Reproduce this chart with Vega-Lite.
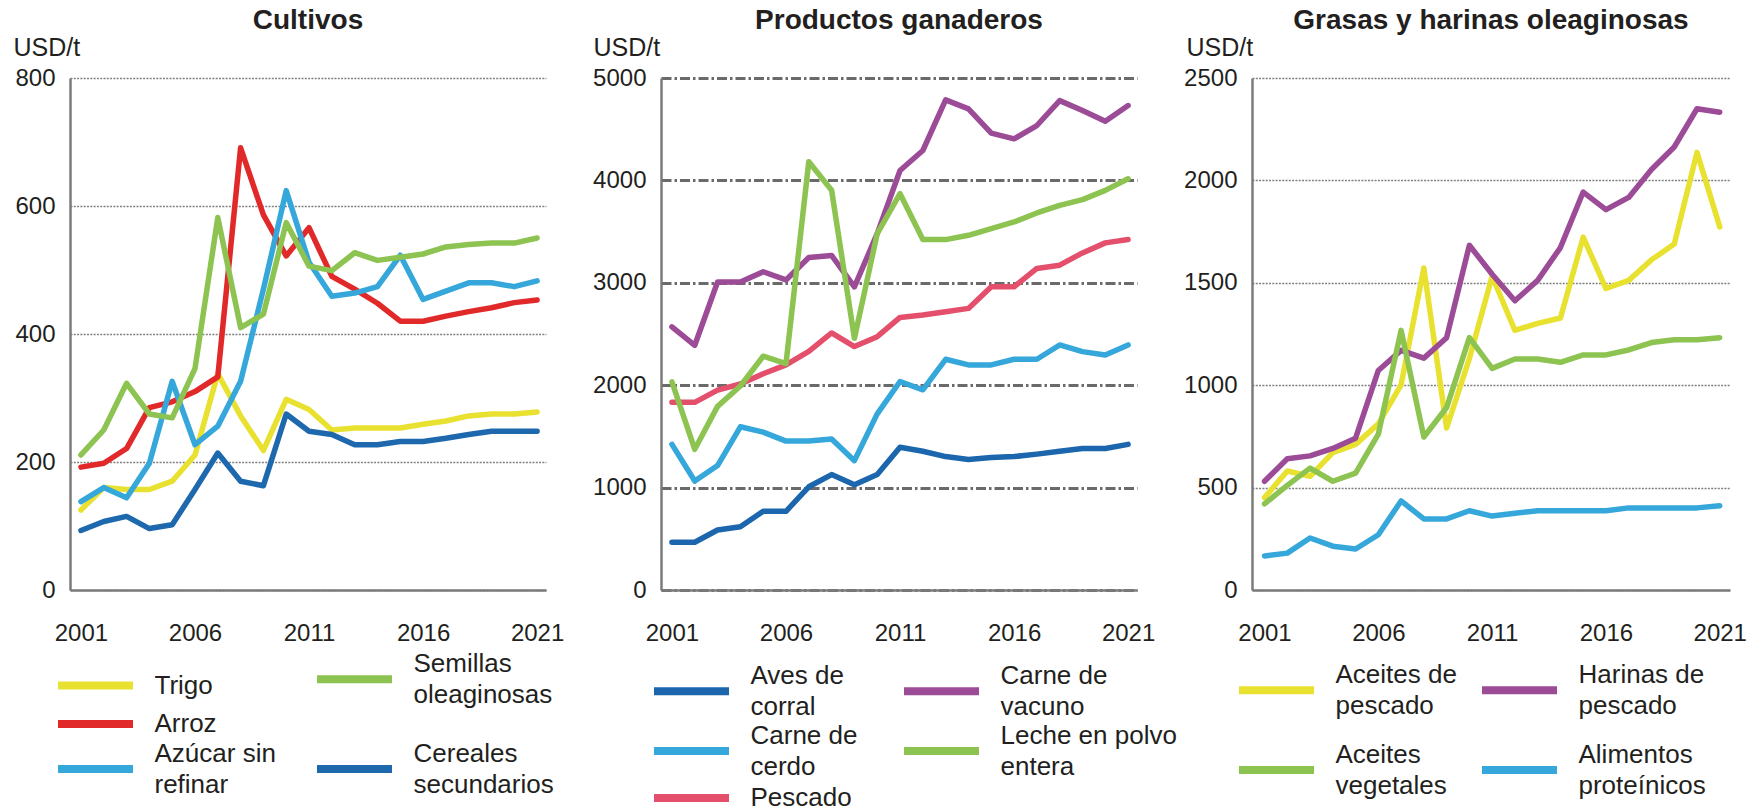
{
  "$schema": "https://vega.github.io/schema/vega-lite/v6.json",
  "background": "white",
  "padding": {"left": 13, "top": 7, "right": 10, "bottom": 0},
  "spacing": 115,
  "bounds": "flush",
  "config": {
    "view": {"stroke": null},
    "font": "Liberation Sans",
    "axis": {"labelFont": "Liberation Sans", "titleFont": "Liberation Sans"},
    "legend": {"labelFont": "Liberation Sans"},
    "title": {"font": "Liberation Sans"}
  },
  "resolve": {"scale": {"color": "independent", "x": "independent", "y": "independent"}},
  "datasets": {
    "cultivos": [
      {"serie": "Trigo", "anio": 2001, "valor": 125}, {"serie": "Trigo", "anio": 2002, "valor": 160}, {"serie": "Trigo", "anio": 2003, "valor": 157}, {"serie": "Trigo", "anio": 2004, "valor": 157}, {"serie": "Trigo", "anio": 2005, "valor": 170}, {"serie": "Trigo", "anio": 2006, "valor": 211}, {"serie": "Trigo", "anio": 2007, "valor": 338}, {"serie": "Trigo", "anio": 2008, "valor": 272}, {"serie": "Trigo", "anio": 2009, "valor": 218}, {"serie": "Trigo", "anio": 2010, "valor": 298}, {"serie": "Trigo", "anio": 2011, "valor": 282}, {"serie": "Trigo", "anio": 2012, "valor": 250}, {"serie": "Trigo", "anio": 2013, "valor": 253}, {"serie": "Trigo", "anio": 2014, "valor": 253}, {"serie": "Trigo", "anio": 2015, "valor": 253}, {"serie": "Trigo", "anio": 2016, "valor": 259}, {"serie": "Trigo", "anio": 2017, "valor": 264}, {"serie": "Trigo", "anio": 2018, "valor": 272}, {"serie": "Trigo", "anio": 2019, "valor": 275}, {"serie": "Trigo", "anio": 2020, "valor": 275}, {"serie": "Trigo", "anio": 2021, "valor": 278},
      {"serie": "Arroz", "anio": 2001, "valor": 192}, {"serie": "Arroz", "anio": 2002, "valor": 198}, {"serie": "Arroz", "anio": 2003, "valor": 221}, {"serie": "Arroz", "anio": 2004, "valor": 285}, {"serie": "Arroz", "anio": 2005, "valor": 294}, {"serie": "Arroz", "anio": 2006, "valor": 310}, {"serie": "Arroz", "anio": 2007, "valor": 333}, {"serie": "Arroz", "anio": 2008, "valor": 691}, {"serie": "Arroz", "anio": 2009, "valor": 586}, {"serie": "Arroz", "anio": 2010, "valor": 522}, {"serie": "Arroz", "anio": 2011, "valor": 566}, {"serie": "Arroz", "anio": 2012, "valor": 490}, {"serie": "Arroz", "anio": 2013, "valor": 470}, {"serie": "Arroz", "anio": 2014, "valor": 448}, {"serie": "Arroz", "anio": 2015, "valor": 420}, {"serie": "Arroz", "anio": 2016, "valor": 420}, {"serie": "Arroz", "anio": 2017, "valor": 428}, {"serie": "Arroz", "anio": 2018, "valor": 435}, {"serie": "Arroz", "anio": 2019, "valor": 441}, {"serie": "Arroz", "anio": 2020, "valor": 449}, {"serie": "Arroz", "anio": 2021, "valor": 453},
      {"serie": "Azúcar sin refinar", "anio": 2001, "valor": 138}, {"serie": "Azúcar sin refinar", "anio": 2002, "valor": 160}, {"serie": "Azúcar sin refinar", "anio": 2003, "valor": 144}, {"serie": "Azúcar sin refinar", "anio": 2004, "valor": 198}, {"serie": "Azúcar sin refinar", "anio": 2005, "valor": 326}, {"serie": "Azúcar sin refinar", "anio": 2006, "valor": 227}, {"serie": "Azúcar sin refinar", "anio": 2007, "valor": 256}, {"serie": "Azúcar sin refinar", "anio": 2008, "valor": 326}, {"serie": "Azúcar sin refinar", "anio": 2009, "valor": 470}, {"serie": "Azúcar sin refinar", "anio": 2010, "valor": 624}, {"serie": "Azúcar sin refinar", "anio": 2011, "valor": 512}, {"serie": "Azúcar sin refinar", "anio": 2012, "valor": 459}, {"serie": "Azúcar sin refinar", "anio": 2013, "valor": 464}, {"serie": "Azúcar sin refinar", "anio": 2014, "valor": 474}, {"serie": "Azúcar sin refinar", "anio": 2015, "valor": 523}, {"serie": "Azúcar sin refinar", "anio": 2016, "valor": 454}, {"serie": "Azúcar sin refinar", "anio": 2017, "valor": 467}, {"serie": "Azúcar sin refinar", "anio": 2018, "valor": 480}, {"serie": "Azúcar sin refinar", "anio": 2019, "valor": 480}, {"serie": "Azúcar sin refinar", "anio": 2020, "valor": 474}, {"serie": "Azúcar sin refinar", "anio": 2021, "valor": 483},
      {"serie": "Semillas oleaginosas", "anio": 2001, "valor": 211}, {"serie": "Semillas oleaginosas", "anio": 2002, "valor": 250}, {"serie": "Semillas oleaginosas", "anio": 2003, "valor": 323}, {"serie": "Semillas oleaginosas", "anio": 2004, "valor": 275}, {"serie": "Semillas oleaginosas", "anio": 2005, "valor": 269}, {"serie": "Semillas oleaginosas", "anio": 2006, "valor": 346}, {"serie": "Semillas oleaginosas", "anio": 2007, "valor": 582}, {"serie": "Semillas oleaginosas", "anio": 2008, "valor": 410}, {"serie": "Semillas oleaginosas", "anio": 2009, "valor": 431}, {"serie": "Semillas oleaginosas", "anio": 2010, "valor": 574}, {"serie": "Semillas oleaginosas", "anio": 2011, "valor": 506}, {"serie": "Semillas oleaginosas", "anio": 2012, "valor": 499}, {"serie": "Semillas oleaginosas", "anio": 2013, "valor": 527}, {"serie": "Semillas oleaginosas", "anio": 2014, "valor": 515}, {"serie": "Semillas oleaginosas", "anio": 2015, "valor": 520}, {"serie": "Semillas oleaginosas", "anio": 2016, "valor": 525}, {"serie": "Semillas oleaginosas", "anio": 2017, "valor": 536}, {"serie": "Semillas oleaginosas", "anio": 2018, "valor": 540}, {"serie": "Semillas oleaginosas", "anio": 2019, "valor": 542}, {"serie": "Semillas oleaginosas", "anio": 2020, "valor": 542}, {"serie": "Semillas oleaginosas", "anio": 2021, "valor": 550},
      {"serie": "Cereales secundarios", "anio": 2001, "valor": 93}, {"serie": "Cereales secundarios", "anio": 2002, "valor": 107}, {"serie": "Cereales secundarios", "anio": 2003, "valor": 115}, {"serie": "Cereales secundarios", "anio": 2004, "valor": 96}, {"serie": "Cereales secundarios", "anio": 2005, "valor": 102}, {"serie": "Cereales secundarios", "anio": 2006, "valor": 157}, {"serie": "Cereales secundarios", "anio": 2007, "valor": 214}, {"serie": "Cereales secundarios", "anio": 2008, "valor": 170}, {"serie": "Cereales secundarios", "anio": 2009, "valor": 163}, {"serie": "Cereales secundarios", "anio": 2010, "valor": 275}, {"serie": "Cereales secundarios", "anio": 2011, "valor": 248}, {"serie": "Cereales secundarios", "anio": 2012, "valor": 243}, {"serie": "Cereales secundarios", "anio": 2013, "valor": 227}, {"serie": "Cereales secundarios", "anio": 2014, "valor": 227}, {"serie": "Cereales secundarios", "anio": 2015, "valor": 232}, {"serie": "Cereales secundarios", "anio": 2016, "valor": 232}, {"serie": "Cereales secundarios", "anio": 2017, "valor": 237}, {"serie": "Cereales secundarios", "anio": 2018, "valor": 243}, {"serie": "Cereales secundarios", "anio": 2019, "valor": 248}, {"serie": "Cereales secundarios", "anio": 2020, "valor": 248}, {"serie": "Cereales secundarios", "anio": 2021, "valor": 248}
    ],
    "ganaderos": [
      {"serie": "Aves de corral", "anio": 2001, "valor": 466}, {"serie": "Aves de corral", "anio": 2002, "valor": 466}, {"serie": "Aves de corral", "anio": 2003, "valor": 586}, {"serie": "Aves de corral", "anio": 2004, "valor": 618}, {"serie": "Aves de corral", "anio": 2005, "valor": 769}, {"serie": "Aves de corral", "anio": 2006, "valor": 769}, {"serie": "Aves de corral", "anio": 2007, "valor": 1008}, {"serie": "Aves de corral", "anio": 2008, "valor": 1127}, {"serie": "Aves de corral", "anio": 2009, "valor": 1028}, {"serie": "Aves de corral", "anio": 2010, "valor": 1127}, {"serie": "Aves de corral", "anio": 2011, "valor": 1394}, {"serie": "Aves de corral", "anio": 2012, "valor": 1355}, {"serie": "Aves de corral", "anio": 2013, "valor": 1303}, {"serie": "Aves de corral", "anio": 2014, "valor": 1275}, {"serie": "Aves de corral", "anio": 2015, "valor": 1295}, {"serie": "Aves de corral", "anio": 2016, "valor": 1303}, {"serie": "Aves de corral", "anio": 2017, "valor": 1327}, {"serie": "Aves de corral", "anio": 2018, "valor": 1355}, {"serie": "Aves de corral", "anio": 2019, "valor": 1382}, {"serie": "Aves de corral", "anio": 2020, "valor": 1382}, {"serie": "Aves de corral", "anio": 2021, "valor": 1422},
      {"serie": "Carne de cerdo", "anio": 2001, "valor": 1422}, {"serie": "Carne de cerdo", "anio": 2002, "valor": 1064}, {"serie": "Carne de cerdo", "anio": 2003, "valor": 1215}, {"serie": "Carne de cerdo", "anio": 2004, "valor": 1594}, {"serie": "Carne de cerdo", "anio": 2005, "valor": 1542}, {"serie": "Carne de cerdo", "anio": 2006, "valor": 1454}, {"serie": "Carne de cerdo", "anio": 2007, "valor": 1454}, {"serie": "Carne de cerdo", "anio": 2008, "valor": 1474}, {"serie": "Carne de cerdo", "anio": 2009, "valor": 1263}, {"serie": "Carne de cerdo", "anio": 2010, "valor": 1720}, {"serie": "Carne de cerdo", "anio": 2011, "valor": 2036}, {"serie": "Carne de cerdo", "anio": 2012, "valor": 1955}, {"serie": "Carne de cerdo", "anio": 2013, "valor": 2253}, {"serie": "Carne de cerdo", "anio": 2014, "valor": 2198}, {"serie": "Carne de cerdo", "anio": 2015, "valor": 2198}, {"serie": "Carne de cerdo", "anio": 2016, "valor": 2253}, {"serie": "Carne de cerdo", "anio": 2017, "valor": 2253}, {"serie": "Carne de cerdo", "anio": 2018, "valor": 2393}, {"serie": "Carne de cerdo", "anio": 2019, "valor": 2328}, {"serie": "Carne de cerdo", "anio": 2020, "valor": 2295}, {"serie": "Carne de cerdo", "anio": 2021, "valor": 2393},
      {"serie": "Pescado", "anio": 2001, "valor": 1833}, {"serie": "Pescado", "anio": 2002, "valor": 1833}, {"serie": "Pescado", "anio": 2003, "valor": 1952}, {"serie": "Pescado", "anio": 2004, "valor": 2012}, {"serie": "Pescado", "anio": 2005, "valor": 2112}, {"serie": "Pescado", "anio": 2006, "valor": 2199}, {"serie": "Pescado", "anio": 2007, "valor": 2331}, {"serie": "Pescado", "anio": 2008, "valor": 2510}, {"serie": "Pescado", "anio": 2009, "valor": 2377}, {"serie": "Pescado", "anio": 2010, "valor": 2474}, {"serie": "Pescado", "anio": 2011, "valor": 2662}, {"serie": "Pescado", "anio": 2012, "valor": 2685}, {"serie": "Pescado", "anio": 2013, "valor": 2718}, {"serie": "Pescado", "anio": 2014, "valor": 2750}, {"serie": "Pescado", "anio": 2015, "valor": 2961}, {"serie": "Pescado", "anio": 2016, "valor": 2961}, {"serie": "Pescado", "anio": 2017, "valor": 3140}, {"serie": "Pescado", "anio": 2018, "valor": 3172}, {"serie": "Pescado", "anio": 2019, "valor": 3292}, {"serie": "Pescado", "anio": 2020, "valor": 3390}, {"serie": "Pescado", "anio": 2021, "valor": 3422},
      {"serie": "Carne de vacuno", "anio": 2001, "valor": 2570}, {"serie": "Carne de vacuno", "anio": 2002, "valor": 2390}, {"serie": "Carne de vacuno", "anio": 2003, "valor": 3008}, {"serie": "Carne de vacuno", "anio": 2004, "valor": 3008}, {"serie": "Carne de vacuno", "anio": 2005, "valor": 3108}, {"serie": "Carne de vacuno", "anio": 2006, "valor": 3028}, {"serie": "Carne de vacuno", "anio": 2007, "valor": 3247}, {"serie": "Carne de vacuno", "anio": 2008, "valor": 3267}, {"serie": "Carne de vacuno", "anio": 2009, "valor": 2961}, {"serie": "Carne de vacuno", "anio": 2010, "valor": 3480}, {"serie": "Carne de vacuno", "anio": 2011, "valor": 4097}, {"serie": "Carne de vacuno", "anio": 2012, "valor": 4292}, {"serie": "Carne de vacuno", "anio": 2013, "valor": 4786}, {"serie": "Carne de vacuno", "anio": 2014, "valor": 4698}, {"serie": "Carne de vacuno", "anio": 2015, "valor": 4461}, {"serie": "Carne de vacuno", "anio": 2016, "valor": 4406}, {"serie": "Carne de vacuno", "anio": 2017, "valor": 4536}, {"serie": "Carne de vacuno", "anio": 2018, "valor": 4779}, {"serie": "Carne de vacuno", "anio": 2019, "valor": 4682}, {"serie": "Carne de vacuno", "anio": 2020, "valor": 4578}, {"serie": "Carne de vacuno", "anio": 2021, "valor": 4731},
      {"serie": "Leche en polvo entera", "anio": 2001, "valor": 2032}, {"serie": "Leche en polvo entera", "anio": 2002, "valor": 1374}, {"serie": "Leche en polvo entera", "anio": 2003, "valor": 1793}, {"serie": "Leche en polvo entera", "anio": 2004, "valor": 1992}, {"serie": "Leche en polvo entera", "anio": 2005, "valor": 2283}, {"serie": "Leche en polvo entera", "anio": 2006, "valor": 2211}, {"serie": "Leche en polvo entera", "anio": 2007, "valor": 4183}, {"serie": "Leche en polvo entera", "anio": 2008, "valor": 3904}, {"serie": "Leche en polvo entera", "anio": 2009, "valor": 2458}, {"serie": "Leche en polvo entera", "anio": 2010, "valor": 3480}, {"serie": "Leche en polvo entera", "anio": 2011, "valor": 3870}, {"serie": "Leche en polvo entera", "anio": 2012, "valor": 3422}, {"serie": "Leche en polvo entera", "anio": 2013, "valor": 3422}, {"serie": "Leche en polvo entera", "anio": 2014, "valor": 3464}, {"serie": "Leche en polvo entera", "anio": 2015, "valor": 3529}, {"serie": "Leche en polvo entera", "anio": 2016, "valor": 3594}, {"serie": "Leche en polvo entera", "anio": 2017, "valor": 3682}, {"serie": "Leche en polvo entera", "anio": 2018, "valor": 3756}, {"serie": "Leche en polvo entera", "anio": 2019, "valor": 3812}, {"serie": "Leche en polvo entera", "anio": 2020, "valor": 3903}, {"serie": "Leche en polvo entera", "anio": 2021, "valor": 4016}
    ],
    "grasas": [
      {"serie": "Aceites de pescado", "anio": 2001, "valor": 451}, {"serie": "Aceites de pescado", "anio": 2002, "valor": 581}, {"serie": "Aceites de pescado", "anio": 2003, "valor": 555}, {"serie": "Aceites de pescado", "anio": 2004, "valor": 671}, {"serie": "Aceites de pescado", "anio": 2005, "valor": 711}, {"serie": "Aceites de pescado", "anio": 2006, "valor": 811}, {"serie": "Aceites de pescado", "anio": 2007, "valor": 1002}, {"serie": "Aceites de pescado", "anio": 2008, "valor": 1572}, {"serie": "Aceites de pescado", "anio": 2009, "valor": 791}, {"serie": "Aceites de pescado", "anio": 2010, "valor": 1130}, {"serie": "Aceites de pescado", "anio": 2011, "valor": 1532}, {"serie": "Aceites de pescado", "anio": 2012, "valor": 1268}, {"serie": "Aceites de pescado", "anio": 2013, "valor": 1302}, {"serie": "Aceites de pescado", "anio": 2014, "valor": 1328}, {"serie": "Aceites de pescado", "anio": 2015, "valor": 1723}, {"serie": "Aceites de pescado", "anio": 2016, "valor": 1472}, {"serie": "Aceites de pescado", "anio": 2017, "valor": 1512}, {"serie": "Aceites de pescado", "anio": 2018, "valor": 1612}, {"serie": "Aceites de pescado", "anio": 2019, "valor": 1689}, {"serie": "Aceites de pescado", "anio": 2020, "valor": 2137}, {"serie": "Aceites de pescado", "anio": 2021, "valor": 1773},
      {"serie": "Harinas de pescado", "anio": 2001, "valor": 531}, {"serie": "Harinas de pescado", "anio": 2002, "valor": 641}, {"serie": "Harinas de pescado", "anio": 2003, "valor": 655}, {"serie": "Harinas de pescado", "anio": 2004, "valor": 691}, {"serie": "Harinas de pescado", "anio": 2005, "valor": 741}, {"serie": "Harinas de pescado", "anio": 2006, "valor": 1072}, {"serie": "Harinas de pescado", "anio": 2007, "valor": 1170}, {"serie": "Harinas de pescado", "anio": 2008, "valor": 1132}, {"serie": "Harinas de pescado", "anio": 2009, "valor": 1232}, {"serie": "Harinas de pescado", "anio": 2010, "valor": 1683}, {"serie": "Harinas de pescado", "anio": 2011, "valor": 1542}, {"serie": "Harinas de pescado", "anio": 2012, "valor": 1412}, {"serie": "Harinas de pescado", "anio": 2013, "valor": 1512}, {"serie": "Harinas de pescado", "anio": 2014, "valor": 1672}, {"serie": "Harinas de pescado", "anio": 2015, "valor": 1943}, {"serie": "Harinas de pescado", "anio": 2016, "valor": 1857}, {"serie": "Harinas de pescado", "anio": 2017, "valor": 1917}, {"serie": "Harinas de pescado", "anio": 2018, "valor": 2053}, {"serie": "Harinas de pescado", "anio": 2019, "valor": 2163}, {"serie": "Harinas de pescado", "anio": 2020, "valor": 2350}, {"serie": "Harinas de pescado", "anio": 2021, "valor": 2333},
      {"serie": "Aceites vegetales", "anio": 2001, "valor": 421}, {"serie": "Aceites vegetales", "anio": 2002, "valor": 511}, {"serie": "Aceites vegetales", "anio": 2003, "valor": 595}, {"serie": "Aceites vegetales", "anio": 2004, "valor": 531}, {"serie": "Aceites vegetales", "anio": 2005, "valor": 571}, {"serie": "Aceites vegetales", "anio": 2006, "valor": 761}, {"serie": "Aceites vegetales", "anio": 2007, "valor": 1268}, {"serie": "Aceites vegetales", "anio": 2008, "valor": 747}, {"serie": "Aceites vegetales", "anio": 2009, "valor": 891}, {"serie": "Aceites vegetales", "anio": 2010, "valor": 1232}, {"serie": "Aceites vegetales", "anio": 2011, "valor": 1082}, {"serie": "Aceites vegetales", "anio": 2012, "valor": 1128}, {"serie": "Aceites vegetales", "anio": 2013, "valor": 1128}, {"serie": "Aceites vegetales", "anio": 2014, "valor": 1112}, {"serie": "Aceites vegetales", "anio": 2015, "valor": 1148}, {"serie": "Aceites vegetales", "anio": 2016, "valor": 1148}, {"serie": "Aceites vegetales", "anio": 2017, "valor": 1172}, {"serie": "Aceites vegetales", "anio": 2018, "valor": 1208}, {"serie": "Aceites vegetales", "anio": 2019, "valor": 1222}, {"serie": "Aceites vegetales", "anio": 2020, "valor": 1222}, {"serie": "Aceites vegetales", "anio": 2021, "valor": 1232},
      {"serie": "Alimentos proteínicos", "anio": 2001, "valor": 166}, {"serie": "Alimentos proteínicos", "anio": 2002, "valor": 180}, {"serie": "Alimentos proteínicos", "anio": 2003, "valor": 254}, {"serie": "Alimentos proteínicos", "anio": 2004, "valor": 214}, {"serie": "Alimentos proteínicos", "anio": 2005, "valor": 200}, {"serie": "Alimentos proteínicos", "anio": 2006, "valor": 270}, {"serie": "Alimentos proteínicos", "anio": 2007, "valor": 435}, {"serie": "Alimentos proteínicos", "anio": 2008, "valor": 347}, {"serie": "Alimentos proteínicos", "anio": 2009, "valor": 347}, {"serie": "Alimentos proteínicos", "anio": 2010, "valor": 387}, {"serie": "Alimentos proteínicos", "anio": 2011, "valor": 361}, {"serie": "Alimentos proteínicos", "anio": 2012, "valor": 375}, {"serie": "Alimentos proteínicos", "anio": 2013, "valor": 387}, {"serie": "Alimentos proteínicos", "anio": 2014, "valor": 387}, {"serie": "Alimentos proteínicos", "anio": 2015, "valor": 387}, {"serie": "Alimentos proteínicos", "anio": 2016, "valor": 387}, {"serie": "Alimentos proteínicos", "anio": 2017, "valor": 401}, {"serie": "Alimentos proteínicos", "anio": 2018, "valor": 401}, {"serie": "Alimentos proteínicos", "anio": 2019, "valor": 401}, {"serie": "Alimentos proteínicos", "anio": 2020, "valor": 401}, {"serie": "Alimentos proteínicos", "anio": 2021, "valor": 411}
    ]
  },
  "hconcat": [
    {
      "title": {"text": "Cultivos", "fontSize": 28, "fontWeight": "bold", "color": "#231f20", "anchor": "middle", "frame": "group", "offset": 0},
      "width": 476,
      "height": 512,
      "data": {"name": "cultivos"},
      "mark": {"type": "line", "strokeWidth": 5.5, "strokeJoin": "round", "strokeCap": "round"},
      "encoding": {
        "x": {"field": "anio", "type": "quantitative", "scale": {"domain": [2000.52, 2021.39], "nice": false, "zero": false},
          "axis": {"values": [2001, 2006, 2011, 2016, 2021], "format": "d", "title": null, "grid": false, "ticks": false, "domainColor": "#7b7b7b", "domainWidth": 2.5, "labelFontSize": 24, "labelPadding": 31, "labelDx": -7, "labelFlush": false, "labelColor": "#231f20", "zindex": 1}},
        "y": {"field": "valor", "type": "quantitative", "scale": {"domain": [0, 800], "nice": false},
          "axis": {"values": [0, 200, 400, 600, 800], "format": "d", "title": "USD/t", "titleAngle": 0, "titleAlign": "left", "titleBaseline": "middle", "titleX": -57, "titleY": -31, "titleFontSize": 25, "titleFontWeight": "normal", "titleColor": "#231f20", "grid": true, "gridColor": "#808080", "gridDash": [2, 1.3], "gridWidth": 1.6, "ticks": false, "domainColor": "#7b7b7b", "domainWidth": 2.5, "labelFontSize": 24, "labelPadding": 15, "labelColor": "#231f20"}},
        "color": {"field": "serie", "type": "nominal",
          "scale": {"domain": ["Trigo", "Arroz", "Azúcar sin refinar", "Semillas oleaginosas", " ", "Cereales secundarios"], "range": ["#e9e12f", "#e2292a", "#35a7da", "#8dc351", "rgba(0,0,0,0)", "#1e68ae"]},
          "legend": {"title": null, "orient": "none", "legendX": -12, "legendY": 588, "columns": 2, "symbolType": "M-5,0H5", "symbolSize": 225, "symbolStrokeWidth": 8, "symbolOffset": 24.5, "labelFontSize": 26, "labelColor": "#231f20", "labelOffset": 46, "columnPadding": 25, "rowPadding": 0, "labelLimit": 400, "padding": 0,
            "labelExpr": "datum.label == ' ' ? '' : (indexof(datum.label, ' ') < 0 ? datum.label : [substring(datum.label, 0, lastindexof(datum.label, ' ')), substring(datum.label, lastindexof(datum.label, ' ') + 1)])",
            "encoding": {"labels": {"dy": {"value": {"expr": "indexof(datum.label, ' ') > 0 ? -15.5 : 0"}}, "lineHeight": {"value": 31}}}}}
      }
    },
    {
      "title": {"text": "Productos ganaderos", "fontSize": 28, "fontWeight": "bold", "color": "#231f20", "anchor": "middle", "frame": "group", "offset": 0},
      "width": 476,
      "height": 512,
      "data": {"name": "ganaderos"},
      "mark": {"type": "line", "strokeWidth": 5.5, "strokeJoin": "round", "strokeCap": "round"},
      "encoding": {
        "x": {"field": "anio", "type": "quantitative", "scale": {"domain": [2000.52, 2021.39], "nice": false, "zero": false},
          "axis": {"values": [2001, 2006, 2011, 2016, 2021], "format": "d", "title": null, "grid": false, "ticks": false, "domainColor": "#7b7b7b", "domainWidth": 2.5, "labelFontSize": 24, "labelPadding": 31, "labelDx": -7, "labelFlush": false, "labelColor": "#231f20", "zindex": 1}},
        "y": {"field": "valor", "type": "quantitative", "scale": {"domain": [0, 5000], "nice": false},
          "axis": {"values": [0, 1000, 2000, 3000, 4000, 5000], "format": "d", "title": "USD/t", "titleAngle": 0, "titleAlign": "left", "titleBaseline": "middle", "titleX": -68, "titleY": -31, "titleFontSize": 25, "titleFontWeight": "normal", "titleColor": "#231f20", "grid": true, "gridColor": "#6a6a6a", "gridDash": [10, 3, 2.5, 3], "gridWidth": 3.2, "ticks": false, "domainColor": "#7b7b7b", "domainWidth": 2.5, "labelFontSize": 24, "labelPadding": 15, "labelColor": "#231f20"}},
        "color": {"field": "serie", "type": "nominal",
          "scale": {"domain": ["Aves de corral", "Carne de cerdo", "Pescado", "Carne de vacuno", "Leche en polvo entera"], "range": ["#1b66ad", "#35a7da", "#e4506b", "#9c4b97", "#8dc351"]},
          "legend": {"title": null, "orient": "none", "legendX": -7, "legendY": 600, "columns": 2, "symbolType": "M-5,0H5", "symbolSize": 225, "symbolStrokeWidth": 8, "symbolOffset": 24.5, "labelFontSize": 26, "labelColor": "#231f20", "labelOffset": 46, "columnPadding": 30, "rowPadding": 2, "labelLimit": 400, "padding": 0,
            "labelExpr": "datum.label == ' ' ? '' : (indexof(datum.label, ' ') < 0 ? datum.label : [substring(datum.label, 0, lastindexof(datum.label, ' ')), substring(datum.label, lastindexof(datum.label, ' ') + 1)])",
            "encoding": {"labels": {"dy": {"value": {"expr": "indexof(datum.label, ' ') > 0 ? -15.5 : 0"}}, "lineHeight": {"value": 31}}}}}
      }
    },
    {
      "title": {"text": "Grasas y harinas oleaginosas", "fontSize": 28, "fontWeight": "bold", "color": "#231f20", "anchor": "middle", "frame": "group", "offset": 0},
      "width": 478,
      "height": 512,
      "data": {"name": "grasas"},
      "mark": {"type": "line", "strokeWidth": 5.5, "strokeJoin": "round", "strokeCap": "round"},
      "encoding": {
        "x": {"field": "anio", "type": "quantitative", "scale": {"domain": [2000.45, 2021.45], "nice": false, "zero": false},
          "axis": {"values": [2001, 2006, 2011, 2016, 2021], "format": "d", "title": null, "grid": false, "ticks": false, "domainColor": "#7b7b7b", "domainWidth": 2.5, "labelFontSize": 24, "labelPadding": 31, "labelDx": -7, "labelFlush": false, "labelColor": "#231f20", "zindex": 1}},
        "y": {"field": "valor", "type": "quantitative", "scale": {"domain": [0, 2500], "nice": false},
          "axis": {"values": [0, 500, 1000, 1500, 2000, 2500], "format": "d", "title": "USD/t", "titleAngle": 0, "titleAlign": "left", "titleBaseline": "middle", "titleX": -66, "titleY": -31, "titleFontSize": 25, "titleFontWeight": "normal", "titleColor": "#231f20", "grid": true, "gridColor": "#808080", "gridDash": [2, 1.3], "gridWidth": 1.6, "ticks": false, "domainColor": "#7b7b7b", "domainWidth": 2.5, "labelFontSize": 24, "labelPadding": 15, "labelColor": "#231f20"}},
        "color": {"field": "serie", "type": "nominal",
          "scale": {"domain": ["Aceites de pescado", "Aceites vegetales", "Harinas de pescado", "Alimentos proteínicos"], "range": ["#e9e12f", "#8dc351", "#9c4b97", "#35a7da"]},
          "legend": {"title": null, "orient": "none", "legendX": -13, "legendY": 599, "columns": 2, "symbolType": "M-5,0H5", "symbolSize": 225, "symbolStrokeWidth": 8, "symbolOffset": 24.5, "labelFontSize": 26, "labelColor": "#231f20", "labelOffset": 46, "columnPadding": 9, "rowPadding": 22, "labelLimit": 400, "padding": 0,
            "labelExpr": "datum.label == ' ' ? '' : (indexof(datum.label, ' ') < 0 ? datum.label : [substring(datum.label, 0, lastindexof(datum.label, ' ')), substring(datum.label, lastindexof(datum.label, ' ') + 1)])",
            "encoding": {"labels": {"dy": {"value": {"expr": "indexof(datum.label, ' ') > 0 ? -15.5 : 0"}}, "lineHeight": {"value": 31}}}}}
      }
    }
  ]
}
